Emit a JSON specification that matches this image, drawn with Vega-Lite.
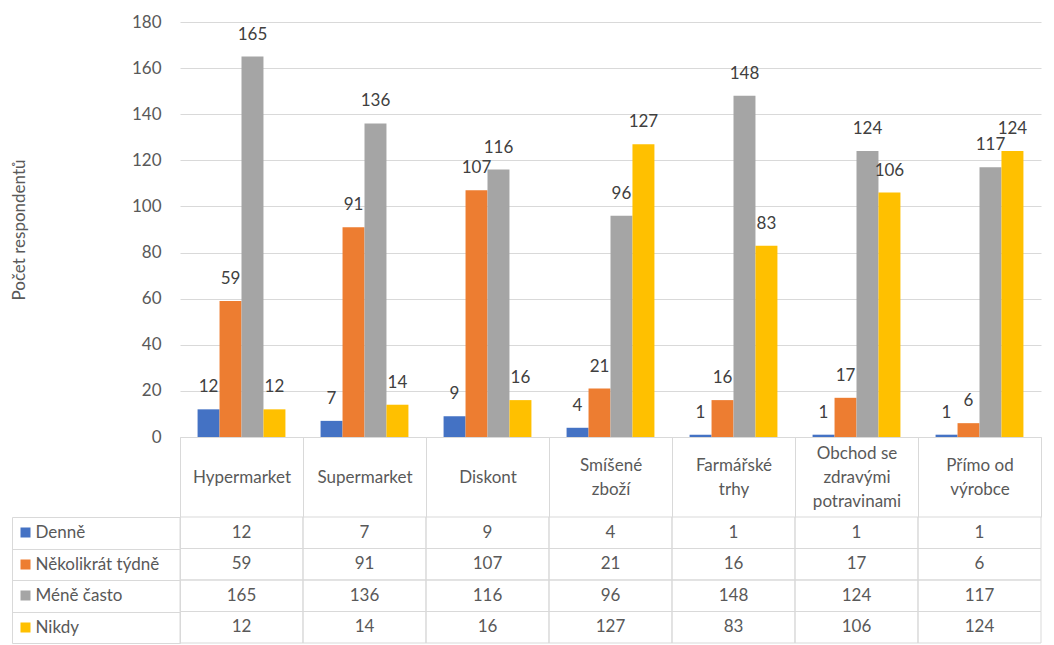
{
  "$schema": "https://vega.github.io/schema/vega-lite/v6.json",
  "padding": {"left": 7, "top": 13, "right": 5, "bottom": 2},
  "config": {
    "view": {"stroke": null},
    "font": "Lato"
  },
  "datasets": {
    "counts": [
      {"misto": "Hypermarket", "frekvence": "Denně", "pocet": 12},
      {"misto": "Hypermarket", "frekvence": "Několikrát týdně", "pocet": 59},
      {"misto": "Hypermarket", "frekvence": "Méně často", "pocet": 165},
      {"misto": "Hypermarket", "frekvence": "Nikdy", "pocet": 12},
      {"misto": "Supermarket", "frekvence": "Denně", "pocet": 7},
      {"misto": "Supermarket", "frekvence": "Několikrát týdně", "pocet": 91},
      {"misto": "Supermarket", "frekvence": "Méně často", "pocet": 136},
      {"misto": "Supermarket", "frekvence": "Nikdy", "pocet": 14},
      {"misto": "Diskont", "frekvence": "Denně", "pocet": 9},
      {"misto": "Diskont", "frekvence": "Několikrát týdně", "pocet": 107},
      {"misto": "Diskont", "frekvence": "Méně často", "pocet": 116},
      {"misto": "Diskont", "frekvence": "Nikdy", "pocet": 16},
      {"misto": "Smíšené zboží", "frekvence": "Denně", "pocet": 4},
      {"misto": "Smíšené zboží", "frekvence": "Několikrát týdně", "pocet": 21},
      {"misto": "Smíšené zboží", "frekvence": "Méně často", "pocet": 96},
      {"misto": "Smíšené zboží", "frekvence": "Nikdy", "pocet": 127},
      {"misto": "Farmářské trhy", "frekvence": "Denně", "pocet": 1},
      {"misto": "Farmářské trhy", "frekvence": "Několikrát týdně", "pocet": 16},
      {"misto": "Farmářské trhy", "frekvence": "Méně často", "pocet": 148},
      {"misto": "Farmářské trhy", "frekvence": "Nikdy", "pocet": 83},
      {"misto": "Obchod se zdravými potravinami", "frekvence": "Denně", "pocet": 1},
      {"misto": "Obchod se zdravými potravinami", "frekvence": "Několikrát týdně", "pocet": 17},
      {"misto": "Obchod se zdravými potravinami", "frekvence": "Méně často", "pocet": 124},
      {"misto": "Obchod se zdravými potravinami", "frekvence": "Nikdy", "pocet": 106},
      {"misto": "Přímo od výrobce", "frekvence": "Denně", "pocet": 1},
      {"misto": "Přímo od výrobce", "frekvence": "Několikrát týdně", "pocet": 6},
      {"misto": "Přímo od výrobce", "frekvence": "Méně často", "pocet": 117},
      {"misto": "Přímo od výrobce", "frekvence": "Nikdy", "pocet": 124}
    ]
  },
  "bounds": "flush",
  "spacing": 80,
  "vconcat": [
    {
      "width": 861,
      "height": 415,
      "data": {"name": "counts"},
      "encoding": {
        "x": {
          "field": "misto",
          "type": "nominal",
          "sort": ["Hypermarket", "Supermarket", "Diskont", "Smíšené zboží", "Farmářské trhy", "Obchod se zdravými potravinami", "Přímo od výrobce"],
          "scale": {"paddingInner": 0, "paddingOuter": 0},
          "axis": {
            "title": null,
            "labelAngle": 0,
            "domainColor": "#d9d9d9",
            "tickColor": "#d9d9d9",
            "tickBand": "extent",
            "tickSize": 80,
            "labelPadding": {
              "condition": [
                {"test": "datum.value === 'Obchod se zdravými potravinami'", "value": -64},
                {"test": "datum.value === 'Hypermarket' || datum.value === 'Supermarket' || datum.value === 'Diskont'", "value": -40}
              ],
              "value": -52
            },
            "labelBaseline": "middle",
            "labelLineHeight": 24,
            "labelFontSize": 17,
            "labelColor": "#595959",
            "labelExpr": "datum.label === 'Obchod se zdravými potravinami' ? ['Obchod se', 'zdravými', 'potravinami'] : datum.label === 'Přímo od výrobce' ? ['Přímo od', 'výrobce'] : split(datum.label, ' ')"
          }
        },
        "xOffset": {
          "field": "frekvence",
          "type": "nominal",
          "sort": ["Denně", "Několikrát týdně", "Méně často", "Nikdy"],
          "scale": {"paddingInner": 0, "paddingOuter": 0.8}
        },
        "y": {
          "field": "pocet",
          "type": "quantitative",
          "scale": {"domain": [0, 180], "nice": false},
          "axis": {
            "title": "Počet respondentů",
            "titleFontSize": 17,
            "titleFontWeight": "normal",
            "titleColor": "#595959",
            "titlePadding": 103,
            "values": [0, 20, 40, 60, 80, 100, 120, 140, 160, 180],
            "labelFontSize": 17,
            "labelColor": "#595959",
            "labelPadding": 19,
            "ticks": false,
            "domain": false,
            "gridColor": "#d9d9d9"
          }
        }
      },
      "layer": [
        {
          "mark": {"type": "bar"},
          "encoding": {
            "color": {
              "field": "frekvence",
              "type": "nominal",
              "sort": ["Denně", "Několikrát týdně", "Méně často", "Nikdy"],
              "scale": {"range": ["#4472c4", "#ed7d31", "#a5a5a5", "#ffc000"]},
              "legend": null
            }
          }
        },
        {
          "mark": {"type": "text", "baseline": "bottom", "dy": -13, "fontSize": 17, "color": "#404040"},
          "encoding": {"text": {"field": "pocet", "type": "quantitative"}}
        }
      ]
    },
    {
      "width": 861,
      "height": 126,
      "data": {"name": "counts"},
      "encoding": {
        "x": {
          "field": "misto",
          "type": "nominal",
          "sort": ["Hypermarket", "Supermarket", "Diskont", "Smíšené zboží", "Farmářské trhy", "Obchod se zdravými potravinami", "Přímo od výrobce"],
          "scale": {"paddingInner": 0, "paddingOuter": 0},
          "axis": null
        }
      },
      "layer": [
        {
          "mark": {"type": "rect", "filled": false, "stroke": "#d9d9d9", "strokeWidth": 1},
          "encoding": {
            "y": {
              "field": "frekvence",
              "type": "nominal",
              "sort": ["Denně", "Několikrát týdně", "Méně často", "Nikdy"],
              "scale": {"paddingInner": 0, "paddingOuter": 0},
              "axis": {
                "orient": "left",
                "title": null,
                "offset": 168,
                "labels": false,
                "domainColor": "#d9d9d9",
                "tickSize": -18,
                "tickWidth": 10,
                "tickDash": [0, 8, 10, 40],
                "tickColor": {
                  "condition": [
                    {"test": "datum.value === 'Denně'", "value": "#4472c4"},
                    {"test": "datum.value === 'Několikrát týdně'", "value": "#ed7d31"},
                    {"test": "datum.value === 'Méně často'", "value": "#a5a5a5"}
                  ],
                  "value": "#ffc000"
                }
              }
            }
          }
        },
        {
          "mark": {"type": "text", "fontSize": 17, "color": "#595959"},
          "encoding": {
            "y": {
              "field": "frekvence",
              "type": "nominal",
              "sort": ["Denně", "Několikrát týdně", "Méně často", "Nikdy"],
              "axis": {
                "orient": "left",
                "title": null,
                "domainColor": "#d9d9d9",
                "tickColor": "#d9d9d9",
                "tickBand": "extent",
                "tickSize": 168,
                "labelPadding": -23,
                "labelAlign": "left",
                "labelFontSize": 17,
                "labelColor": "#595959"
              }
            },
            "text": {"field": "pocet", "type": "quantitative"}
          }
        }
      ],
      "resolve": {"axis": {"y": "independent"}}
    }
  ]
}
